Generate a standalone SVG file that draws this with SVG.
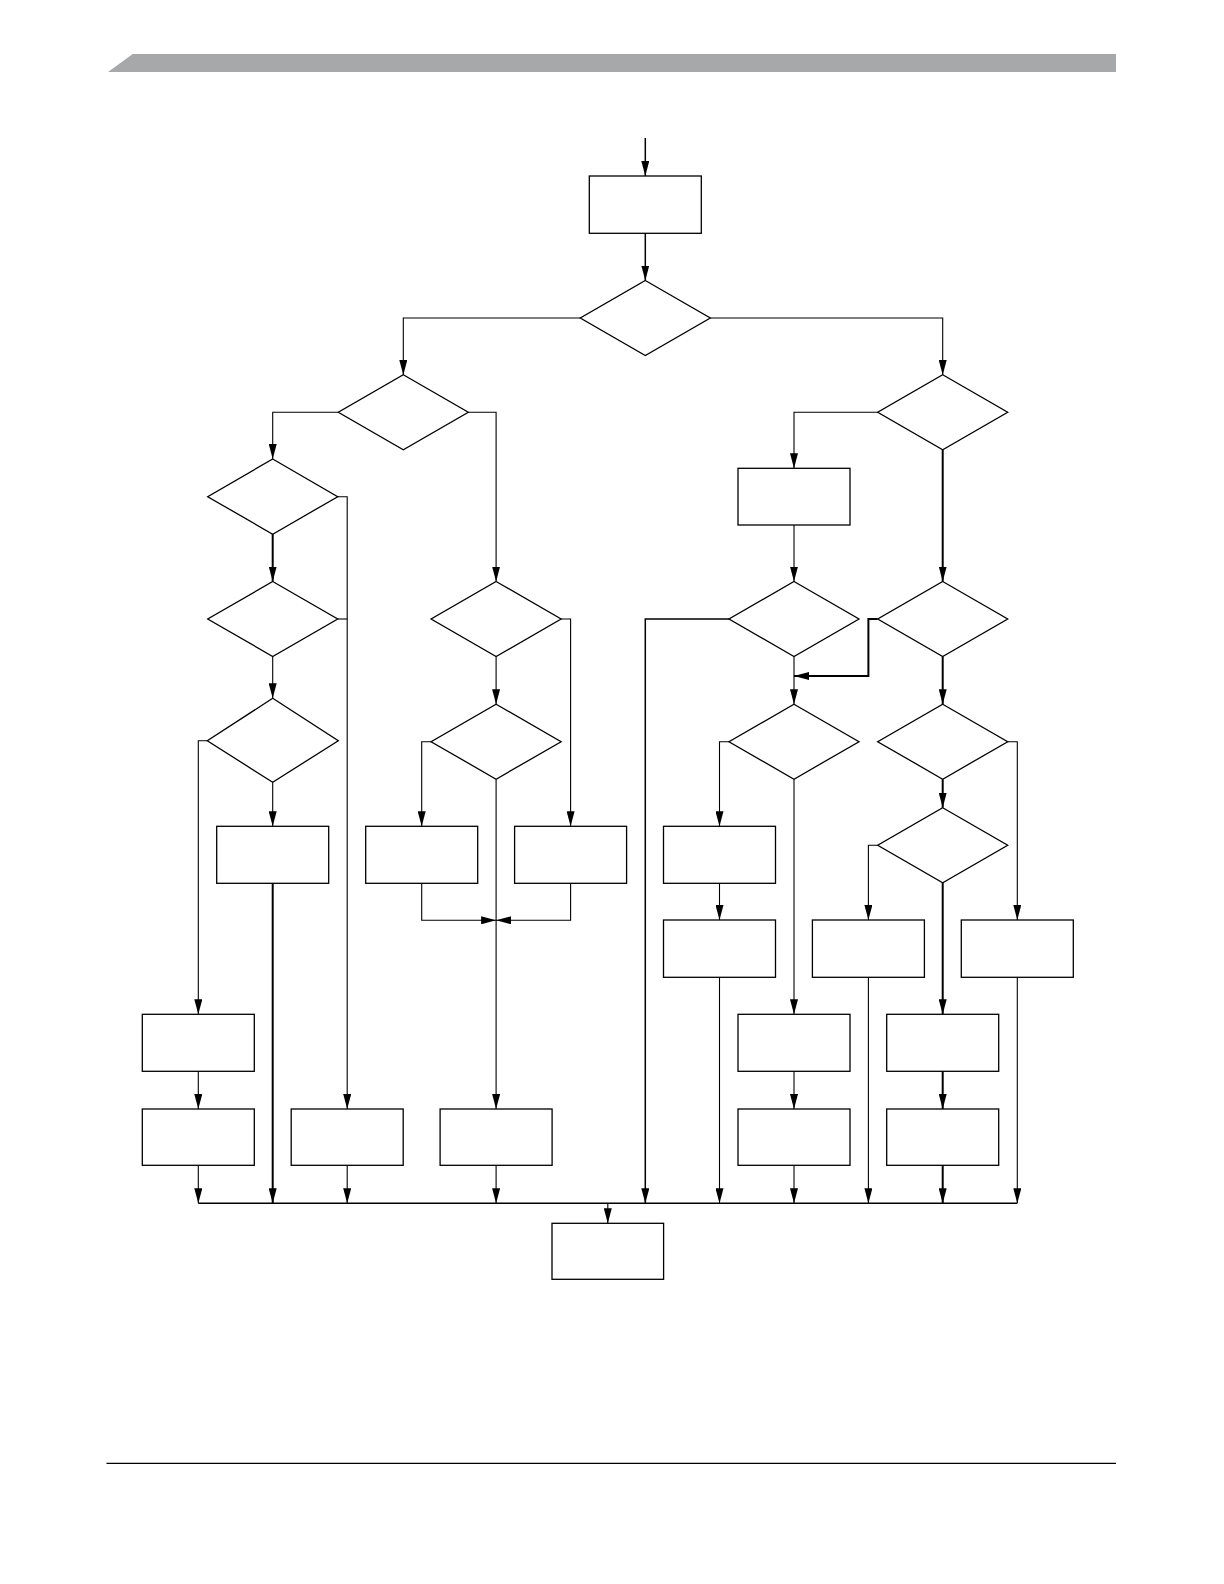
<svg xmlns="http://www.w3.org/2000/svg" width="1224" height="1584" viewBox="0 0 1224 1584">
<style>
.n{fill:#fff;stroke:#000;stroke-width:1.3}
.c{fill:none;stroke:#000;stroke-width:1.1}
.t{fill:none;stroke:#000;stroke-width:2}
.m{fill:none;stroke:#000;stroke-width:1.5}
</style>
<defs>
<marker id="a" viewBox="0 0 15 8" refX="15" refY="4" markerWidth="15" markerHeight="8" markerUnits="userSpaceOnUse" orient="auto">
<path d="M0,0 L15,4 L0,8 z" fill="#000"/>
</marker>
</defs>
<rect width="1224" height="1584" fill="#fff"/>
<g id="page">
<polygon points="108,72 132.7,54 1116,54 1116,72" fill="#a7a8aa"/>
<line x1="106.5" y1="1463.3" x2="1116" y2="1463.3" stroke="#000" stroke-width="1.3"/>
</g>
<g id="connectors">
<path class="m" d="M645.3,138 V176" marker-end="url(#a)"/>
<path class="m" d="M645.3,233.3 V280.5" marker-end="url(#a)"/>
<path class="c" d="M580.3,318 H403.3 V375" marker-end="url(#a)"/>
<path class="c" d="M710.3,318 H942.7 V375" marker-end="url(#a)"/>
<path class="c" d="M338.3,412.3 H272.7 V459" marker-end="url(#a)"/>
<path class="c" d="M468.3,412.3 H496.1 V581.5" marker-end="url(#a)"/>
<path class="t" d="M272.7,534 V581.5" marker-end="url(#a)"/>
<path class="c" d="M337.7,496.7 H347.2 V1109" marker-end="url(#a)"/>
<path class="c" d="M337.7,619 H347.2"/>
<path class="c" d="M272.7,656.5 V698.3" marker-end="url(#a)"/>
<path class="c" d="M207.3,740.7 H198.3 V1014.3" marker-end="url(#a)"/>
<path class="c" d="M272.7,782.3 V826.3" marker-end="url(#a)"/>
<path class="t" d="M272.7,883.3 V1203.3" marker-end="url(#a)"/>
<path class="c" d="M198.3,1071.3 V1109" marker-end="url(#a)"/>
<path class="c" d="M198.3,1165.3 V1203.3" marker-end="url(#a)"/>
<path class="c" d="M347.2,1165.3 V1203.3" marker-end="url(#a)"/>
<path class="c" d="M561.1,619 H570.6 V826.3" marker-end="url(#a)"/>
<path class="c" d="M496.1,656.5 V704.2" marker-end="url(#a)"/>
<path class="c" d="M431.1,741.7 H421.7 V826.3" marker-end="url(#a)"/>
<path class="c" d="M496.1,779.2 V1109" marker-end="url(#a)"/>
<path class="c" d="M421.7,883.3 V920.3 H496.1" marker-end="url(#a)"/>
<path class="c" d="M570.6,883.3 V920.3 H496.1" marker-end="url(#a)"/>
<path class="c" d="M496.1,1165.3 V1203.3" marker-end="url(#a)"/>
<path class="c" d="M877.7,412.3 H794 V468.3" marker-end="url(#a)"/>
<path class="t" d="M942.7,449.8 V581.5" marker-end="url(#a)"/>
<path class="c" d="M794,525 V581.5" marker-end="url(#a)"/>
<path class="m" d="M729,619 H645.3 V1203.3" marker-end="url(#a)"/>
<path class="c" d="M794,656.5 V704.2" marker-end="url(#a)"/>
<path class="t" d="M877.7,619 H868.4 V676 H794" marker-end="url(#a)"/>
<path class="t" d="M942.7,656.5 V704.2" marker-end="url(#a)"/>
<path class="c" d="M729,741.7 H719.5 V826.3" marker-end="url(#a)"/>
<path class="c" d="M794,779.2 V1014.3" marker-end="url(#a)"/>
<path class="c" d="M719.5,883.3 V920" marker-end="url(#a)"/>
<path class="c" d="M719.5,977.3 V1203.3" marker-end="url(#a)"/>
<path class="c" d="M794,1071.3 V1109" marker-end="url(#a)"/>
<path class="c" d="M794,1165.3 V1203.3" marker-end="url(#a)"/>
<path class="c" d="M1007.7,741.7 H1017.3 V920" marker-end="url(#a)"/>
<path class="t" d="M942.7,779.2 V807.7" marker-end="url(#a)"/>
<path class="c" d="M877.7,845.3 H868.4 V920" marker-end="url(#a)"/>
<path class="t" d="M942.7,882.8 V1014.3" marker-end="url(#a)"/>
<path class="c" d="M868.4,977.3 V1203.3" marker-end="url(#a)"/>
<path class="c" d="M1017.3,977.3 V1203.3" marker-end="url(#a)"/>
<path class="t" d="M942.7,1071.3 V1109" marker-end="url(#a)"/>
<path class="t" d="M942.7,1165.3 V1203.3" marker-end="url(#a)"/>
<path class="m" d="M198.3,1203.3 H1017.3"/>
<path class="c" d="M607.8,1203.3 V1223.3" marker-end="url(#a)"/>
</g>
<g id="start"><rect class="n" x="589.3" y="176" width="112" height="57.3"/></g>
<g id="d0"><polygon class="n" points="645.3,280.5 710.3,318 645.3,355.5 580.3,318"/></g>
<g id="l1"><polygon class="n" points="403.3,374.8 468.3,412.3 403.3,449.8 338.3,412.3"/></g>
<g id="r1"><polygon class="n" points="942.7,374.8 1007.7,412.3 942.7,449.8 877.7,412.3"/></g>
<g id="l2"><polygon class="n" points="272.7,459 337.7,496.7 272.7,534.2 207.7,496.7"/></g>
<g id="rbox"><rect class="n" x="738" y="468.3" width="112" height="56.7"/></g>
<g id="l3"><polygon class="n" points="272.7,581.5 337.7,619 272.7,656.5 207.7,619"/></g>
<g id="m1"><polygon class="n" points="496.1,581.5 561.1,619 496.1,656.5 431.1,619"/></g>
<g id="r2a"><polygon class="n" points="794,581.5 859,619 794,656.5 729,619"/></g>
<g id="r2b"><polygon class="n" points="942.7,581.5 1007.7,619 942.7,656.5 877.7,619"/></g>
<g id="l4"><polygon class="n" points="272.7,698.3 338.3,740.7 272.7,782.3 207.3,740.7"/></g>
<g id="m2"><polygon class="n" points="496.1,704.2 561.1,741.7 496.1,779.2 431.1,741.7"/></g>
<g id="r3a"><polygon class="n" points="794,704.2 859,741.7 794,779.2 729,741.7"/></g>
<g id="r3b"><polygon class="n" points="942.7,704.2 1007.7,741.7 942.7,779.2 877.7,741.7"/></g>
<g id="r4b"><polygon class="n" points="942.7,807.7 1007.7,845.3 942.7,882.8 877.7,845.3"/></g>
<g id="a2"><rect class="n" x="216.7" y="826.3" width="112" height="57"/></g>
<g id="a4"><rect class="n" x="365.7" y="826.3" width="112" height="57"/></g>
<g id="a6"><rect class="n" x="514.6" y="826.3" width="112" height="57"/></g>
<g id="a8"><rect class="n" x="663.5" y="826.3" width="112" height="57"/></g>
<g id="b8"><rect class="n" x="663.5" y="920" width="112" height="57.3"/></g>
<g id="b10"><rect class="n" x="812.4" y="920" width="112" height="57.3"/></g>
<g id="b12"><rect class="n" x="961.3" y="920" width="112" height="57.3"/></g>
<g id="c1"><rect class="n" x="142.3" y="1014.3" width="112" height="57"/></g>
<g id="c9"><rect class="n" x="738" y="1014.3" width="112" height="57"/></g>
<g id="c11"><rect class="n" x="886.7" y="1014.3" width="112" height="57"/></g>
<g id="d1"><rect class="n" x="142.3" y="1109" width="112" height="56.3"/></g>
<g id="d3"><rect class="n" x="291.2" y="1109" width="112" height="56.3"/></g>
<g id="d5"><rect class="n" x="440.1" y="1109" width="112" height="56.3"/></g>
<g id="d9"><rect class="n" x="738" y="1109" width="112" height="56.3"/></g>
<g id="d11"><rect class="n" x="886.7" y="1109" width="112" height="56.3"/></g>
<g id="end"><rect class="n" x="552" y="1223.3" width="111.6" height="56"/></g>
</svg>
